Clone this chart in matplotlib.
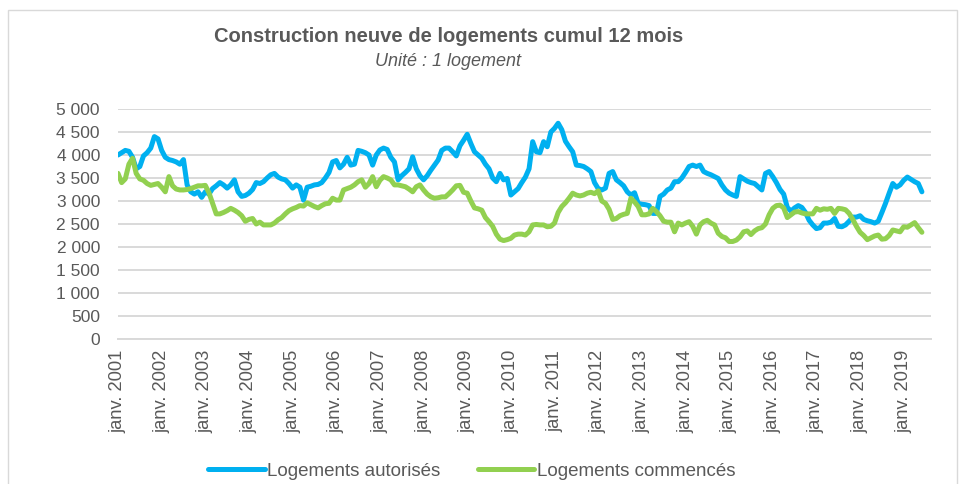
import matplotlib
matplotlib.use("Agg")
import matplotlib.pyplot as plt
from matplotlib.patches import Rectangle
import numpy as np

# Monthly values, Jan 2001 -> Jun 2019 (12-month cumulative)
autorises = [
    4000, 4050, 4100, 4080, 3950, 3700, 3750, 3980, 4050, 4150, 4400, 4350,
    4100, 3950, 3900, 3880, 3850, 3800, 3900, 3350, 3200, 3150, 3200, 3080,
    3200, 3150, 3270, 3330, 3400, 3350, 3280, 3350, 3460, 3200, 3100, 3120,
    3170, 3250, 3400, 3380, 3420, 3500, 3570, 3600, 3520, 3480, 3460, 3380,
    3280, 3350, 3300, 3020, 3300, 3320, 3350, 3360, 3400, 3500, 3620, 3850,
    3880, 3720, 3800, 3950, 3780, 3800, 4100, 4080, 4050, 4000, 3780, 4000,
    4110, 4150, 4120, 3950, 3850, 3460, 3550, 3620, 3700, 3960, 3700, 3550,
    3460, 3550, 3670, 3780, 3890, 4100, 4150, 4150, 4070, 3980, 4200, 4320,
    4450, 4250, 4070, 4000, 3930, 3800, 3700, 3500, 3420, 3600, 3460, 3490,
    3130, 3200, 3270, 3400, 3520, 3700, 4290, 4070, 4050, 4290, 4180, 4500,
    4580, 4690, 4550, 4300, 4180, 4070, 3780, 3770, 3750, 3700, 3640, 3400,
    3270, 3240, 3280, 3600, 3640, 3460, 3400, 3330, 3200, 3130, 3180, 2950,
    2930, 2920, 2900, 2730, 2730, 3100, 3150, 3240, 3280, 3420, 3420, 3500,
    3620, 3750, 3780, 3750, 3780, 3640, 3600, 3570, 3530, 3490, 3350, 3240,
    3170, 3130, 3100, 3530, 3480, 3430, 3400, 3380, 3310, 3240, 3600, 3640,
    3530, 3400, 3250, 3150, 2860, 2780, 2850, 2900, 2860, 2750, 2580, 2480,
    2400, 2420, 2520, 2520, 2540, 2620, 2450, 2440, 2480, 2560, 2650, 2650,
    2680, 2600, 2570, 2550, 2520, 2560, 2750, 2950, 3170, 3380, 3300, 3350,
    3450, 3520, 3470, 3420, 3380, 3200,
]
commences = [
    3600, 3400, 3480, 3800, 3930, 3600, 3480, 3450, 3380, 3340, 3360, 3380,
    3300, 3200, 3530, 3330, 3260, 3240, 3240, 3250, 3270, 3300, 3330, 3330,
    3340, 3180, 2950, 2720, 2720, 2750, 2790, 2840, 2800, 2750, 2680, 2560,
    2600, 2620, 2500, 2540, 2480, 2480, 2480, 2520, 2590, 2640, 2720, 2790,
    2830, 2860, 2900, 2890, 2960, 2920, 2880, 2850, 2900, 2940, 2950, 3060,
    3020, 3020, 3240, 3270, 3300, 3350, 3420, 3460, 3300, 3380, 3530, 3310,
    3450, 3530, 3500, 3460, 3350, 3350, 3330, 3310, 3260, 3200, 3310, 3350,
    3240, 3150, 3090, 3060, 3070, 3090, 3090, 3160, 3240, 3330, 3340, 3190,
    3170, 3000, 2850, 2830, 2800, 2640, 2550, 2450, 2280, 2170, 2140, 2160,
    2190, 2260, 2280, 2280, 2260, 2330, 2480, 2490, 2480, 2480, 2440, 2450,
    2520, 2750, 2880, 2960, 3060, 3170, 3130, 3110, 3130, 3170, 3190, 3160,
    3220, 3000, 2950, 2820, 2600, 2620, 2680, 2710, 2730, 3060, 2980, 2880,
    2700, 2700, 2720, 2840, 2770, 2680, 2560, 2540, 2540, 2330, 2520, 2480,
    2520, 2550, 2450, 2280, 2480, 2550, 2580, 2520, 2480, 2300, 2230, 2200,
    2120, 2120, 2150, 2220, 2330, 2350, 2270, 2350, 2400, 2420, 2500, 2700,
    2840, 2900, 2910, 2850, 2640, 2700, 2760, 2770, 2740, 2720, 2720, 2720,
    2840, 2800, 2830, 2820, 2840, 2730, 2840, 2830, 2810, 2730, 2600, 2450,
    2320, 2250, 2160, 2200, 2240, 2260, 2170, 2180, 2250, 2370, 2350, 2330,
    2440, 2430, 2480, 2530, 2420, 2320,
]
years = list(range(2001, 2020))
xtick_labels = [f"janv. {y}" for y in years]
ytick_values = list(range(0, 5001, 500))
ytick_labels = [f"{v:,}".replace(",", " ") for v in ytick_values]
series_names = ["Logements autorisés", "Logements commencés"]
title = "Construction neuve de logements cumul 12 mois"
subtitle = "Unité : 1 logement"

W, H = 966, 484
fig = plt.figure(figsize=(W / 100, H / 100), dpi=100)
plt.rcParams['font.family'] = ['Liberation Sans', 'DejaVu Sans']
txt = "#595959"
grid = "#D9D9D9"

# chart border
fig.patches.append(Rectangle((8 / W, -0.1), (957 - 8) / W, 1.1 - 10 / H,
                             transform=fig.transFigure, fill=False,
                             edgecolor="#D9D9D9", linewidth=1.0))

left, right, top, bottom = 118, 931, 109, 339
ax = fig.add_axes([left / W, 1 - bottom / H, (right - left) / W, (bottom - top) / H])

months = np.arange(len(autorises))
l1, = ax.plot(months, autorises, color="#00B0F0", linewidth=3.6,
              solid_joinstyle="round", solid_capstyle="round", label=series_names[0])
l2, = ax.plot(np.arange(len(commences)), commences, color="#92D050", linewidth=3.6,
              solid_joinstyle="round", solid_capstyle="round", label=series_names[1])

ax.set_xlim(0, 223.5)
ax.set_ylim(0, 5000)
ax.set_yticks(ytick_values)
ax.set_yticklabels(ytick_labels)
ax.set_xticks(np.arange(len(years)) * 12)
ax.set_xticklabels(xtick_labels, rotation=90, va="top", ha="center")
ax.tick_params(axis="y", length=0, pad=13, labelsize=12.5, labelcolor=txt)
ax.tick_params(axis="x", length=0, pad=8, labelsize=13.2, labelcolor=txt)
ax.yaxis.grid(True, color=grid, linewidth=1.4)
ax.set_axisbelow(True)
for s in ["top", "right", "left"]:
    ax.spines[s].set_visible(False)
ax.spines["bottom"].set_color(grid)
ax.spines["bottom"].set_linewidth(1.4)

fig.text(449 / W, 1 - 37 / H, title, ha="center", va="center",
         fontsize=14.5, fontweight="bold", color=txt)
fig.text(448 / W, 1 - 61 / H, subtitle, ha="center", va="center",
         fontsize=13, style="italic", color=txt)

fig.legend(handles=[l1, l2], labels=series_names, loc="center",
           bbox_to_anchor=(472 / W, 1 - 471 / H), ncol=2, frameon=False,
           fontsize=13.5, labelcolor=txt, handlelength=3.0, handletextpad=0.15,
           columnspacing=2.0)

fig.savefig("out.png", dpi=100)
